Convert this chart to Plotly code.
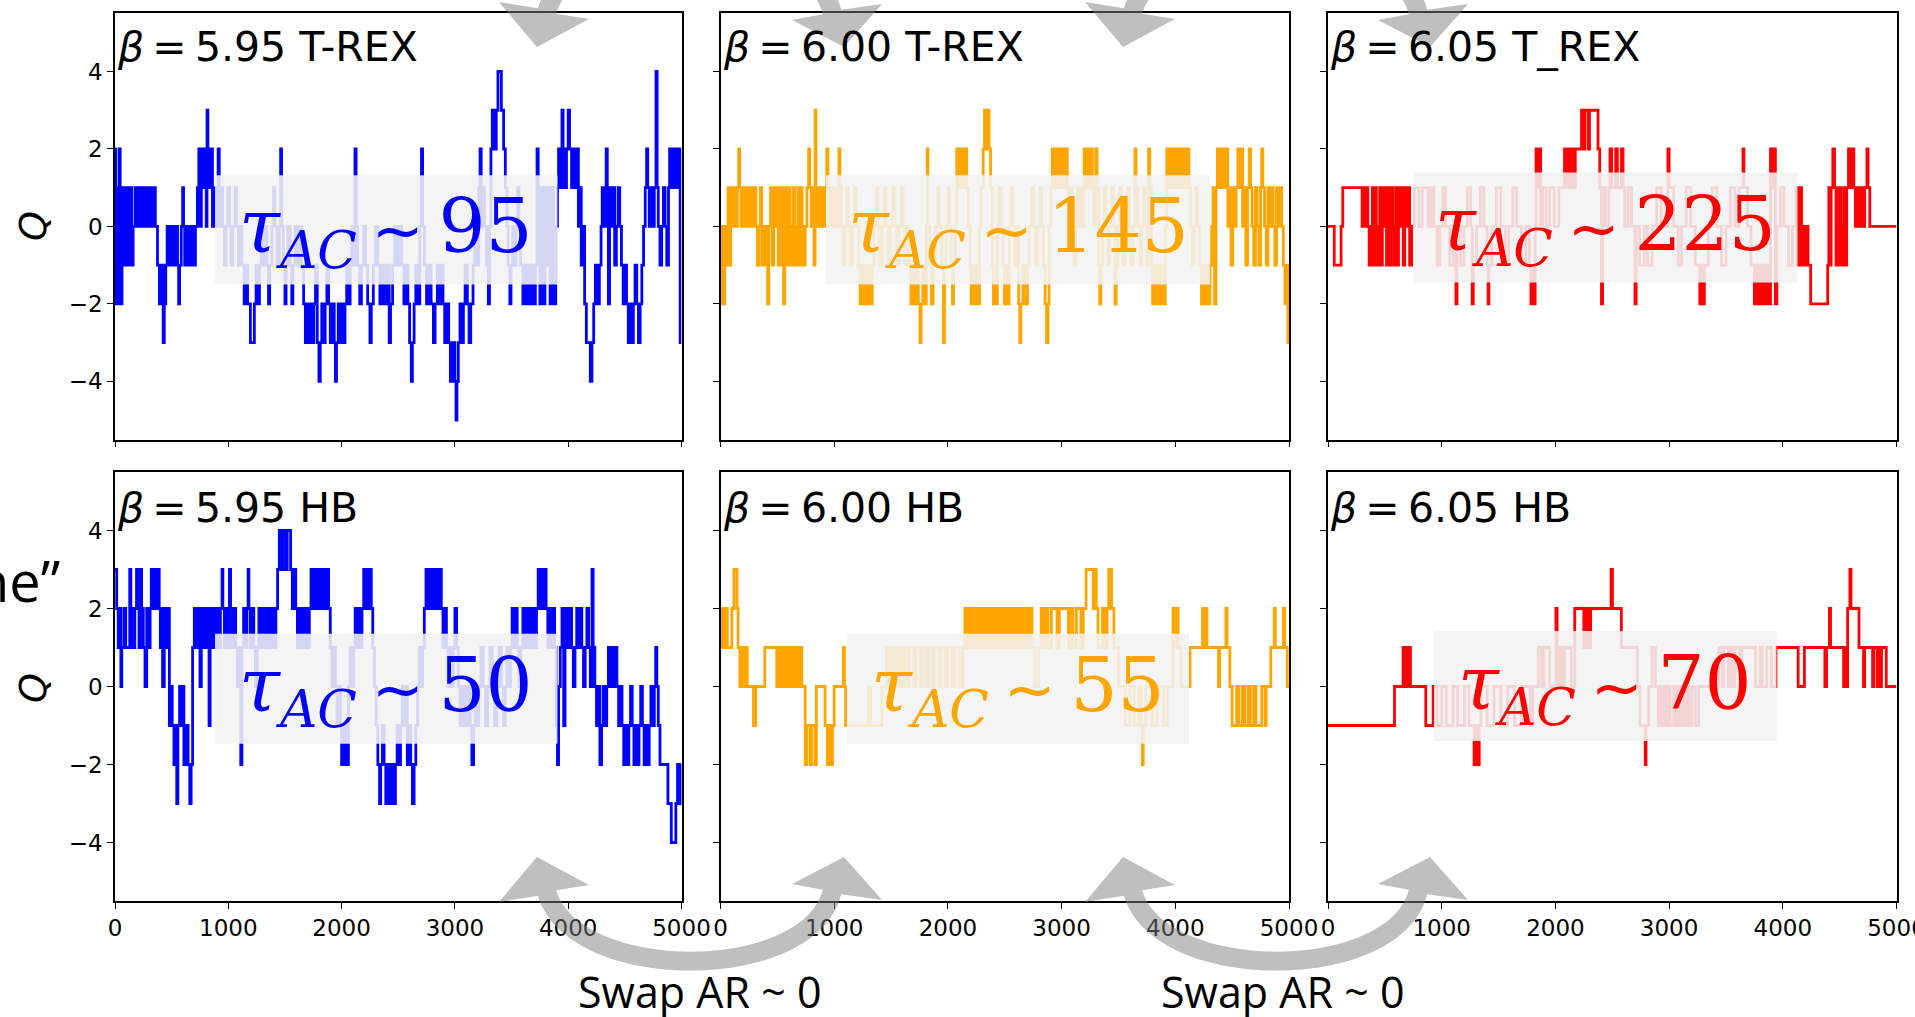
import math
import plotly.graph_objects as go

W, H = 1915, 1017

# ---------------- data (MC step where Q changes, new Q value) ----------------
tl_breaks = [(0,2),(8,-2),(20,1),(28,-2),(38,2),(46,-1),(55,-2),(62,1),(70,-1),(82,1),(92,-1),(104,1),(118,-1),(128,0),(140,1),(150,-1),(160,0),(180,1),(192,0),(215,1),(225,0),(240,1),(250,0),(262,1),(275,0),(290,1),(302,0),(318,1),(330,0),(345,1),(356,0),(375,-1),(392,-2),(405,-1),(425,-3),(435,-2),(448,-1),(460,0),(470,-1),(482,0),(495,-1),(505,0),(520,-1),(540,0),(552,-1),(562,-2),(570,-1),(585,0),(597,1),(605,0),(615,-1),(625,0),(640,-1),(655,0),(668,-1),(680,0),(695,-1),(710,0),(727,1),(740,2),(752,0),(762,2),(775,1),(790,2),(805,0),(812,3),(820,2),(835,1),(848,2),(860,0),(878,1),(895,0),(910,2),(920,0),(935,1),(950,0),(965,-1),(980,0),(995,1),(1010,0),(1025,-1),(1040,0),(1060,1),(1072,0),(1090,-1),(1105,0),(1120,-1),(1140,-2),(1155,-1),(1170,-2),(1195,-3),(1230,-2),(1245,-1),(1260,-2),(1275,-1),(1290,0),(1305,-1),(1320,0),(1340,-1),(1355,-2),(1365,-1),(1385,0),(1400,1),(1410,0),(1430,-1),(1450,0),(1462,2),(1470,0),(1485,-1),(1500,-2),(1510,-1),(1525,0),(1545,-1),(1560,-2),(1570,-1),(1590,0),(1610,-1),(1625,0),(1645,-1),(1665,-2),(1680,-3),(1695,-2),(1710,-3),(1725,-2),(1740,-3),(1755,-2),(1770,-1),(1785,-3),(1800,-4),(1812,-3),(1825,-2),(1840,-3),(1855,-2),(1870,-1),(1885,-2),(1900,-3),(1915,-2),(1935,-3),(1945,-4),(1955,-3),(1970,-2),(1985,-3),(2000,-2),(2015,-3),(2030,-2),(2045,-1),(2060,-2),(2075,-1),(2090,0),(2105,-1),(2118,2),(2128,0),(2140,-1),(2160,-2),(2175,-1),(2195,0),(2210,-1),(2230,-2),(2250,-3),(2262,-2),(2280,-1),(2300,0),(2320,-1),(2338,-2),(2355,-1),(2375,-2),(2400,-1),(2420,-3),(2432,-2),(2450,-1),(2470,0),(2490,-1),(2510,0),(2530,-1),(2550,-2),(2570,-1),(2585,-2),(2600,-3),(2615,-4),(2625,-3),(2640,-2),(2655,-1),(2670,-2),(2690,0),(2705,2),(2715,0),(2730,-1),(2750,-2),(2770,-1),(2790,-2),(2810,-3),(2825,-2),(2845,-1),(2860,-2),(2875,-1),(2895,-2),(2910,-3),(2930,-2),(2945,-3),(2960,-4),(2985,-3),(3000,-4),(3010,-5),(3018,-4),(3030,-3),(3045,-2),(3060,-3),(3075,-2),(3090,-1),(3110,-2),(3125,-3),(3140,-2),(3160,-1),(3175,0),(3195,-1),(3210,1),(3222,2),(3232,0),(3245,1),(3260,0),(3280,-1),(3295,-2),(3305,0),(3318,2),(3330,3),(3350,2),(3365,3),(3380,4),(3410,3),(3430,2),(3445,1),(3460,0),(3470,-1),(3485,-2),(3495,-1),(3510,0),(3525,-1),(3540,0),(3555,1),(3565,0),(3580,-1),(3600,-2),(3615,-1),(3630,-2),(3650,-1),(3665,-2),(3680,-1),(3695,-2),(3710,-1),(3725,2),(3735,1),(3750,-2),(3765,1),(3780,-2),(3795,1),(3810,-1),(3825,1),(3840,-2),(3855,1),(3870,-2),(3890,0),(3905,1),(3915,2),(3935,1),(3945,3),(3955,2),(3970,1),(3985,2),(4000,3),(4012,2),(4030,1),(4045,2),(4060,1),(4075,2),(4090,0),(4105,1),(4115,-1),(4130,0),(4145,-2),(4160,-3),(4195,-4),(4210,-3),(4225,-2),(4240,-1),(4260,-2),(4275,-1),(4290,0),(4300,1),(4312,0),(4325,1),(4335,2),(4345,0),(4355,-2),(4365,1),(4380,0),(4395,1),(4410,-1),(4425,0),(4440,1),(4455,0),(4470,-1),(4485,-2),(4500,-1),(4515,-2),(4530,-3),(4545,-2),(4560,-3),(4575,-2),(4590,-1),(4605,-2),(4620,-3),(4635,-2),(4650,-1),(4665,0),(4680,1),(4692,2),(4702,1),(4715,0),(4730,1),(4745,0),(4760,1),(4775,4),(4785,1),(4795,0),(4810,-1),(4825,0),(4840,1),(4855,0),(4870,-1),(4885,1),(4895,2),(4905,1),(4915,2),(4930,1),(4945,2),(4960,1),(4975,2),(4988,-3),(5000,-3)]

tm_breaks = [(0,0),(6,-2),(14,0),(22,-1),(30,-2),(38,0),(48,-1),(58,0),(66,1),(80,-1),(90,0),(98,1),(110,0),(122,1),(134,0),(148,1),(160,2),(168,1),(180,0),(192,1),(210,0),(222,1),(238,0),(250,1),(262,0),(275,1),(290,0),(300,1),(312,0),(325,-1),(335,0),(350,1),(362,-1),(372,0),(385,-1),(400,0),(415,-2),(425,0),(440,1),(455,-1),(468,1),(480,0),(492,1),(508,-1),(520,1),(532,-1),(545,1),(555,-2),(565,-1),(575,1),(585,-1),(600,1),(612,0),(625,-1),(640,1),(652,0),(665,-1),(680,1),(692,-1),(705,1),(718,0),(730,-1),(745,0),(760,1),(775,2),(785,1),(798,0),(810,1),(822,-1),(832,3),(840,1),(852,0),(865,1),(878,0),(890,1),(905,0),(920,1),(935,2),(945,1),(960,0),(975,1),(990,0),(1005,1),(1020,0),(1042,2),(1050,1),(1065,0),(1080,-1),(1095,0),(1110,1),(1125,0),(1140,-1),(1160,0),(1180,1),(1195,0),(1215,-1),(1228,-2),(1240,-1),(1255,-2),(1275,-1),(1290,-2),(1305,-1),(1320,-2),(1335,-1),(1350,0),(1370,1),(1385,0),(1400,-1),(1420,0),(1440,1),(1455,0),(1475,-1),(1495,0),(1515,1),(1530,0),(1550,-1),(1570,0),(1590,1),(1605,0),(1620,-1),(1640,0),(1660,-1),(1675,-2),(1690,-1),(1705,-2),(1720,-1),(1740,-2),(1755,-3),(1765,-2),(1780,-1),(1795,-2),(1810,0),(1818,2),(1825,0),(1840,-1),(1855,-2),(1870,-1),(1890,0),(1910,1),(1925,0),(1945,-1),(1960,-3),(1970,-1),(1985,0),(2000,1),(2015,0),(2030,-1),(2040,-2),(2050,-1),(2065,0),(2078,2),(2090,1),(2100,2),(2112,1),(2125,2),(2138,1),(2150,2),(2165,1),(2180,0),(2195,-1),(2205,-2),(2220,-1),(2235,-2),(2250,-1),(2265,-2),(2278,0),(2290,1),(2310,2),(2322,3),(2340,2),(2355,3),(2362,2),(2375,1),(2390,-1),(2400,-2),(2410,-1),(2425,-2),(2435,0),(2450,1),(2470,0),(2485,-1),(2498,-2),(2510,-1),(2525,-2),(2538,0),(2555,1),(2570,0),(2590,-1),(2610,0),(2622,-2),(2632,-3),(2642,-2),(2660,-1),(2675,-2),(2700,-1),(2715,0),(2735,1),(2750,0),(2770,-1),(2790,0),(2810,1),(2825,0),(2840,-1),(2855,-2),(2868,-3),(2880,-2),(2890,0),(2905,1),(2918,2),(2930,1),(2945,2),(2960,1),(2975,2),(2990,1),(3005,2),(3020,1),(3035,2),(3050,1),(3062,0),(3080,1),(3095,0),(3110,-1),(3125,0),(3140,1),(3155,0),(3170,1),(3185,0),(3198,2),(3210,1),(3225,2),(3240,1),(3255,2),(3270,1),(3285,0),(3300,2),(3312,1),(3325,-1),(3335,-2),(3345,-1),(3360,0),(3375,1),(3390,0),(3405,-1),(3420,0),(3440,1),(3455,0),(3470,-2),(3480,-1),(3495,0),(3510,1),(3525,0),(3540,-1),(3560,0),(3580,1),(3595,0),(3610,-1),(3630,0),(3645,2),(3655,1),(3670,0),(3690,-1),(3705,0),(3720,1),(3735,0),(3750,-1),(3765,2),(3775,1),(3790,-1),(3800,-2),(3812,-1),(3825,-2),(3838,-1),(3850,-2),(3862,-1),(3875,-2),(3888,-1),(3900,-2),(3912,0),(3925,2),(3940,1),(3955,2),(3970,1),(3985,2),(4000,1),(4015,2),(4030,1),(4045,2),(4060,1),(4075,2),(4090,1),(4105,2),(4120,1),(4135,0),(4150,-1),(4165,0),(4180,1),(4195,0),(4210,-1),(4230,-2),(4245,-1),(4260,-2),(4272,-1),(4290,-2),(4305,-1),(4320,0),(4332,1),(4345,-2),(4358,1),(4370,2),(4380,1),(4395,2),(4410,1),(4425,2),(4440,1),(4450,2),(4462,0),(4475,1),(4490,-1),(4505,1),(4520,0),(4535,1),(4550,2),(4565,1),(4580,2),(4592,0),(4605,1),(4620,-1),(4635,1),(4650,2),(4662,1),(4675,0),(4690,-1),(4705,1),(4720,0),(4735,-1),(4750,1),(4760,2),(4770,1),(4785,0),(4800,-1),(4815,1),(4830,0),(4845,1),(4860,0),(4875,-1),(4890,1),(4905,0),(4920,1),(4935,0),(4950,-1),(4965,-2),(4980,-1),(4990,-3),(5000,-3)]

tr_breaks = [(0,0),(55,-1),(115,0),(130,1),(300,0),(312,1),(325,0),(338,1),(350,0),(362,-1),(378,0),(390,1),(402,-1),(415,1),(425,0),(440,-1),(455,1),(465,-1),(478,1),(490,0),(505,1),(515,-1),(528,1),(540,-1),(555,1),(568,0),(580,-1),(595,1),(608,-1),(620,1),(635,0),(648,1),(662,-1),(675,1),(690,0),(705,1),(718,-1),(735,0),(760,1),(800,0),(830,1),(880,0),(905,1),(930,0),(960,-1),(985,0),(1010,1),(1035,0),(1070,-1),(1100,0),(1125,-2),(1135,0),(1165,-1),(1195,0),(1225,1),(1255,0),(1268,-2),(1278,-1),(1305,0),(1340,1),(1370,0),(1400,-1),(1408,-2),(1415,-1),(1440,0),(1480,1),(1520,0),(1560,-1),(1590,0),(1625,1),(1660,0),(1700,-1),(1740,0),(1770,-1),(1785,-2),(1800,-1),(1812,-2),(1822,0),(1830,2),(1840,1),(1855,2),(1870,0),(1890,1),(1920,0),(1950,1),(1990,0),(2030,1),(2080,2),(2095,1),(2110,2),(2125,1),(2140,2),(2165,1),(2175,2),(2230,3),(2245,2),(2260,3),(2290,2),(2300,3),(2375,2),(2390,1),(2405,-2),(2415,1),(2440,0),(2470,1),(2480,2),(2495,1),(2530,2),(2545,1),(2580,2),(2595,1),(2610,0),(2640,1),(2670,0),(2700,-2),(2710,0),(2740,-1),(2780,0),(2810,-1),(2850,0),(2890,1),(2930,0),(2990,2),(3000,1),(3040,0),(3080,-1),(3110,0),(3150,1),(3190,0),(3230,-1),(3270,-2),(3280,-1),(3300,-2),(3310,-1),(3345,0),(3380,1),(3420,0),(3460,-1),(3500,0),(3540,1),(3580,0),(3615,1),(3650,2),(3658,1),(3690,0),(3720,-1),(3750,-2),(3765,-1),(3775,-2),(3790,-1),(3800,-2),(3815,-1),(3825,-2),(3840,-1),(3855,-2),(3870,-1),(3880,-2),(3892,2),(3905,1),(3920,2),(3935,-2),(3948,0),(3980,1),(4010,0),(4050,-1),(4085,0),(4115,1),(4125,-1),(4135,1),(4145,-1),(4155,1),(4165,0),(4175,-1),(4185,0),(4195,-1),(4210,0),(4222,-1),(4245,-2),(4395,-1),(4405,1),(4415,-1),(4425,1),(4440,2),(4455,1),(4468,-1),(4478,1),(4490,-1),(4500,1),(4512,0),(4525,-1),(4538,1),(4550,-1),(4562,1),(4578,2),(4600,1),(4612,2),(4625,1),(4638,0),(4650,1),(4665,0),(4680,1),(4700,0),(4720,1),(4740,2),(4750,1),(4765,0),(5000,0)]

bl_breaks = [(0,3),(15,2),(28,1),(45,2),(52,0),(60,1),(80,2),(95,1),(130,3),(140,1),(150,2),(160,1),(175,2),(190,3),(200,2),(212,1),(225,3),(235,2),(250,1),(265,0),(280,2),(295,1),(310,2),(320,3),(335,2),(345,3),(360,2),(375,3),(390,2),(400,1),(410,2),(420,0),(435,2),(450,1),(465,2),(480,-1),(495,0),(505,-1),(520,-2),(535,-1),(545,-3),(555,-1),(570,0),(585,-1),(600,0),(608,-2),(630,-1),(645,-2),(660,-3),(672,-2),(685,1),(700,2),(712,1),(725,2),(738,1),(750,0),(762,2),(775,1),(790,2),(805,1),(820,2),(830,-1),(840,2),(855,1),(870,2),(885,1),(900,2),(912,1),(930,2),(945,3),(952,2),(965,1),(980,2),(995,1),(1010,3),(1020,2),(1035,1),(1050,2),(1065,1),(1080,0),(1095,1),(1110,-2),(1120,1),(1135,2),(1150,1),(1165,2),(1175,3),(1182,2),(1195,1),(1210,2),(1225,1),(1240,0),(1255,1),(1270,2),(1285,1),(1300,2),(1315,1),(1330,2),(1345,1),(1360,2),(1375,1),(1390,2),(1405,1),(1420,2),(1435,3),(1450,4),(1470,3),(1480,4),(1505,3),(1520,4),(1550,3),(1565,2),(1580,3),(1595,2),(1610,1),(1625,2),(1640,1),(1655,2),(1670,1),(1685,2),(1700,1),(1715,2),(1730,3),(1745,2),(1755,3),(1770,2),(1785,3),(1800,2),(1815,3),(1830,2),(1845,3),(1860,2),(1875,3),(1885,2),(1900,1),(1915,0),(1930,1),(1945,0),(1960,-1),(1975,0),(1990,-1),(2000,-2),(2012,-1),(2025,-2),(2040,-1),(2050,-2),(2060,0),(2075,1),(2090,0),(2105,1),(2120,2),(2135,1),(2150,2),(2165,1),(2180,2),(2195,3),(2210,2),(2222,3),(2235,2),(2250,3),(2262,2),(2275,1),(2290,0),(2305,-1),(2320,-2),(2335,-3),(2345,-2),(2360,-1),(2375,-2),(2390,-3),(2400,-2),(2415,-3),(2425,-2),(2440,-3),(2450,-2),(2465,-3),(2475,-2),(2490,-1),(2505,-2),(2520,-1),(2535,0),(2550,-1),(2565,0),(2580,-2),(2595,-1),(2610,-2),(2625,-3),(2640,-2),(2655,-1),(2670,0),(2685,1),(2700,0),(2715,1),(2730,2),(2745,3),(2760,2),(2775,3),(2790,2),(2805,3),(2820,2),(2835,3),(2850,2),(2865,3),(2880,2),(2895,1),(2910,2),(2925,1),(2940,0),(2955,1),(2970,0),(2985,1),(3000,2),(3015,1),(3030,0),(3045,-1),(3060,0),(3075,-1),(3090,0),(3105,-1),(3120,0),(3135,-1),(3150,-2),(3165,-1),(3180,0),(3195,-1),(3210,0),(3230,1),(3250,0),(3270,-1),(3290,0),(3310,1),(3330,0),(3350,-1),(3370,0),(3390,1),(3410,0),(3430,-1),(3445,0),(3460,1),(3475,0),(3490,1),(3505,2),(3520,1),(3535,2),(3550,1),(3565,0),(3580,1),(3600,2),(3615,1),(3630,2),(3645,1),(3660,2),(3675,1),(3690,2),(3705,1),(3720,2),(3735,3),(3750,2),(3765,3),(3780,2),(3795,3),(3805,2),(3820,1),(3835,2),(3850,1),(3865,2),(3880,1),(3895,-1),(3905,-2),(3915,0),(3930,1),(3945,2),(3960,-1),(3972,1),(3985,2),(4000,1),(4015,2),(4030,1),(4045,0),(4060,1),(4075,2),(4090,1),(4105,2),(4120,1),(4135,0),(4150,1),(4165,2),(4180,1),(4195,0),(4210,3),(4220,1),(4235,0),(4250,-1),(4265,0),(4280,-2),(4295,-1),(4310,0),(4325,-1),(4340,0),(4355,1),(4370,0),(4385,1),(4400,0),(4415,1),(4430,0),(4445,-1),(4460,0),(4475,-1),(4490,-2),(4505,-1),(4520,-2),(4535,-1),(4550,0),(4565,-1),(4580,-2),(4595,-1),(4610,-2),(4625,-1),(4640,0),(4655,-1),(4670,-2),(4685,-1),(4700,-2),(4715,-1),(4730,0),(4745,-1),(4760,0),(4772,1),(4782,0),(4795,-1),(4810,-2),(4880,-3),(4910,-4),(4950,-3),(4965,-2),(4985,-3),(5000,-2)]

bm_breaks = [(0,1),(10,2),(20,1),(40,2),(60,1),(100,2),(118,3),(145,2),(155,1),(170,0),(182,1),(192,0),(200,1),(212,0),(222,1),(235,0),(290,-1),(310,0),(390,1),(495,0),(505,1),(515,0),(530,1),(540,0),(550,1),(565,0),(575,1),(585,0),(595,1),(610,0),(620,1),(635,0),(650,1),(662,0),(675,1),(690,0),(700,1),(715,0),(745,-2),(760,-1),(790,-2),(800,-1),(830,-2),(843,0),(920,-1),(940,-2),(955,-1),(965,-2),(985,-1),(1000,0),(1080,1),(1090,0),(1100,-1),(1300,0),(1320,-1),(1420,0),(1460,1),(1480,0),(1500,1),(1520,0),(1540,1),(1560,0),(1580,1),(1600,0),(1620,1),(1640,0),(1660,1),(1700,0),(1720,1),(1760,0),(1780,1),(1810,0),(1830,1),(1860,0),(1880,1),(1920,0),(1940,1),(1975,0),(2000,1),(2040,0),(2060,1),(2100,0),(2130,1),(2150,2),(2160,1),(2170,2),(2180,1),(2190,2),(2200,1),(2210,2),(2225,1),(2235,2),(2250,1),(2260,2),(2275,1),(2290,2),(2300,1),(2320,2),(2335,1),(2345,2),(2360,1),(2380,2),(2395,1),(2410,2),(2420,1),(2440,2),(2455,1),(2470,2),(2490,1),(2510,2),(2525,1),(2540,2),(2560,1),(2580,2),(2600,1),(2620,2),(2635,1),(2650,2),(2665,1),(2690,2),(2710,1),(2725,2),(2740,1),(2765,0),(2800,1),(2820,2),(2840,1),(2860,2),(2880,1),(2910,2),(2960,1),(2980,2),(3060,1),(3075,2),(3100,1),(3130,2),(3170,1),(3190,2),(3215,3),(3280,2),(3295,3),(3305,2),(3320,1),(3360,2),(3380,1),(3400,2),(3415,3),(3440,2),(3460,1),(3500,0),(3560,-1),(3600,0),(3640,-1),(3680,0),(3700,-1),(3710,-2),(3718,-1),(3740,0),(3800,-1),(3840,0),(3900,-1),(3930,0),(3980,2),(4000,1),(4010,2),(4025,1),(4050,0),(4130,1),(4240,2),(4250,1),(4265,2),(4278,1),(4380,0),(4390,1),(4445,2),(4455,1),(4480,0),(4500,-1),(4540,0),(4560,-1),(4590,0),(4610,-1),(4640,0),(4660,-1),(4690,0),(4710,-1),(4760,0),(4790,-1),(4800,0),(4840,1),(4870,2),(4880,1),(4950,2),(4962,1),(4985,0),(5000,0)]

br_breaks = [(0,-1),(585,0),(660,1),(668,0),(675,1),(690,0),(700,1),(725,0),(860,-1),(925,0),(960,-1),(1000,0),(1040,-1),(1100,0),(1140,-1),(1200,0),(1240,-1),(1285,-2),(1300,-1),(1310,-2),(1330,-1),(1345,0),(1400,-1),(1460,0),(1520,-1),(1580,0),(1640,-1),(1700,0),(1780,-1),(1800,0),(1850,1),(1880,0),(1900,1),(1950,0),(2005,2),(2015,0),(2040,1),(2060,0),(2080,1),(2140,0),(2170,2),(2250,1),(2270,2),(2290,1),(2310,2),(2490,3),(2502,2),(2580,1),(2720,0),(2745,-1),(2790,-2),(2797,-1),(2820,0),(2850,1),(2880,0),(2905,-1),(2915,0),(2935,-1),(2960,0),(2975,-1),(3000,0),(3010,-1),(3040,0),(3060,-1),(3080,0),(3100,-1),(3120,0),(3140,-1),(3160,0),(3180,-1),(3200,0),(3230,-1),(3260,0),(3440,1),(3470,0),(3480,1),(3520,0),(3540,1),(3560,0),(3580,1),(3620,0),(3640,1),(3760,0),(3800,1),(3820,0),(3860,1),(3900,0),(3940,1),(4135,0),(4190,1),(4370,0),(4385,1),(4410,2),(4420,1),(4535,0),(4550,1),(4562,0),(4570,2),(4590,3),(4600,2),(4670,1),(4710,0),(4720,1),(4790,0),(4800,1),(4830,0),(4838,1),(4860,0),(4868,1),(4910,0),(5000,0)]

series = [tl_breaks, tm_breaks, tr_breaks, bl_breaks, bm_breaks, br_breaks]
panel_betas = ["5.95", "6.00", "6.05", "5.95", "6.00", "6.05"]
panel_methods = ["T-REX", "T-REX", "T_REX", "HB", "HB", "HB"]
tau_values = ["95", "145", "225", "50", "55", "70"]
colors = ["#0000ff", "#ffa500", "#ff0000", "#0000ff", "#ffa500", "#ff0000"]
x_ticks = [0, 1000, 2000, 3000, 4000, 5000]
y_ticks = [-4, -2, 0, 2, 4]
y_ticktext = ["−4", "−2", "0", "2", "4"]
swap_label = "Swap AR ~ 0"

# ---------------- layout geometry (pixels) ----------------
col_px = [(115, 681.5), (720.5, 1289), (1328, 1896.5)]
row_px = [(13.4, 439.5), (472, 901)]
# shaded label boxes in data coordinates (x0, x1, y0, y1)
boxes = [(883, 3905, -1.50, 1.32), (928, 4305, -1.50, 1.32), (748, 4129, -1.45, 1.39),
         (883, 3905, -1.47, 1.35), (1112, 4120, -1.47, 1.35), (933, 3944, -1.40, 1.42)]

fig = go.Figure()
layout = dict(width=W, height=H, margin=dict(l=0, r=0, t=0, b=0, pad=0, autoexpand=False),
              paper_bgcolor="white", plot_bgcolor="white", showlegend=False)

tick_font = dict(family="DejaVu Sans", size=23, color="black")
annotations = []
shapes = []
TS = "\u2009"

for i in range(6):
    r, c = divmod(i, 3)
    n = "" if i == 0 else str(i + 1)
    xs = [p[0] for p in series[i]]
    qs = [p[1] for p in series[i]]
    fig.add_trace(go.Scatter(x=xs, y=qs, mode="lines", line=dict(color=colors[i], width=2.8, shape="hv", simplify=False),
                             xaxis="x" + n, yaxis="y" + n, hoverinfo="skip"))
    x0, x1 = col_px[c]
    y0, y1 = row_px[r]
    layout["xaxis" + n] = dict(domain=[x0 / W, x1 / W], anchor="y" + n, range=[0, 5000], automargin=False,
                               showline=True, mirror=True, linecolor="black", linewidth=1.6,
                               ticks="outside", ticklen=6, tickwidth=1.4, tickcolor="black",
                               tickvals=x_ticks, showticklabels=(r == 1), tickfont=tick_font,
                               ticklabeloverflow="allow",
                               showgrid=False, zeroline=False)
    layout["yaxis" + n] = dict(domain=[1 - y1 / H, 1 - y0 / H], anchor="x" + n, range=[-5.5, 5.5], automargin=False,
                               showline=True, mirror=True, linecolor="black", linewidth=1.6,
                               ticks="outside", ticklen=6, tickwidth=1.4, tickcolor="black",
                               tickvals=y_ticks, ticktext=y_ticktext, showticklabels=(c == 0),
                               tickfont=tick_font, showgrid=False, zeroline=False)
    bx0, bx1, by0, by1 = boxes[i]
    shapes.append(dict(type="rect", xref="x" + n, yref="y" + n, x0=bx0, x1=bx1, y0=by0, y1=by1,
                       fillcolor="#f2f2f2", opacity=0.88, line=dict(width=0), layer="above"))
    tau_text = ("<i>τ</i><sub><i>AC</i></sub>" + TS +
                "<span style='font-family:DejaVu Sans;font-size:62px'>~</span>" + TS + tau_values[i])
    annotations.append(dict(xref="x" + n, yref="y" + n, x=(bx0 + bx1) / 2, y=(by0 + by1) / 2 - 0.05,
                            text=tau_text, showarrow=False, xanchor="center", yanchor="middle",
                            font=dict(family="DejaVu Serif", size=74, color=colors[i])))
    ty = 47 if r == 0 else 508
    title = "<i>β</i>" + TS + "=" + TS + panel_betas[i] + " " + panel_methods[i]
    annotations.append(dict(xref="paper", yref="paper", x=x0 / W, y=1 - ty / H, text=title,
                            showarrow=False, xanchor="left", yanchor="middle",
                            font=dict(family="DejaVu Sans", size=41, color="black")))

# y labels
for yc in (226, 688):
    annotations.append(dict(xref="paper", yref="paper", x=33 / W, y=1 - yc / H, text="<i>Q</i>",
                            showarrow=False, textangle=-90, xanchor="center", yanchor="middle",
                            font=dict(family="DejaVu Sans", size=38, color="black")))
# cropped slide text at the left edge
annotations.append(dict(xref="paper", yref="paper", x=62 / W, y=1 - 580 / H, text="ne”",
                        showarrow=False, xanchor="right", yanchor="middle",
                        font=dict(family="Open Sans", size=56, color="black")))
# swap labels
for xc in (700, 1283):
    annotations.append(dict(xref="paper", yref="paper", x=xc / W, y=1 - 991 / H, text=swap_label,
                            showarrow=False, xanchor="center", yanchor="middle",
                            font=dict(family="Open Sans", size=43, color="black")))


# curved double arrows (geometry in pixels)
def arrow_path(dx, mirror):
    P = [(1133, 893), (1160, 984), (1395, 984), (1418, 892)]
    hw = 9.5
    outer, inner = [], []
    N = 48
    for k in range(N + 1):
        t = k / N
        a, b, cc, d = (1 - t) ** 3, 3 * (1 - t) ** 2 * t, 3 * (1 - t) * t ** 2, t ** 3
        x = a * P[0][0] + b * P[1][0] + cc * P[2][0] + d * P[3][0]
        y = a * P[0][1] + b * P[1][1] + cc * P[2][1] + d * P[3][1]
        tx = 3 * (1 - t) ** 2 * (P[1][0] - P[0][0]) + 6 * (1 - t) * t * (P[2][0] - P[1][0]) + 3 * t ** 2 * (P[3][0] - P[2][0])
        ty = 3 * (1 - t) ** 2 * (P[1][1] - P[0][1]) + 6 * (1 - t) * t * (P[2][1] - P[1][1]) + 3 * t ** 2 * (P[3][1] - P[2][1])
        L = math.hypot(tx, ty)
        nx, ny = -ty / L, tx / L
        outer.append((x + nx * hw, y + ny * hw))
        inner.append((x - nx * hw, y - ny * hw))
    pts = [(1123, 857), (1085, 902)] + outer + [(1468, 900), (1430, 857), (1378, 884)] + inner[::-1] + [(1175, 885)]
    out = []
    for (x, y) in pts:
        x = x + dx
        if mirror:
            y = 904 - y
        out.append(f"{x / W:.5f},{1 - y / H:.5f}")
    return "M" + " L".join(out) + " Z"


for dx in (-586, 0):
    for mirror in (False, True):
        shapes.append(dict(type="path", xref="paper", yref="paper", path=arrow_path(dx, mirror),
                           fillcolor="rgb(128,128,128)", opacity=0.5, line=dict(width=0), layer="above"))

layout["shapes"] = shapes
layout["annotations"] = annotations
fig.update_layout(**layout)
fig.write_html("out.html", config={"displayModeBar": False},
               post_script="document.body.style.margin='0';document.body.style.overflow='hidden';")
